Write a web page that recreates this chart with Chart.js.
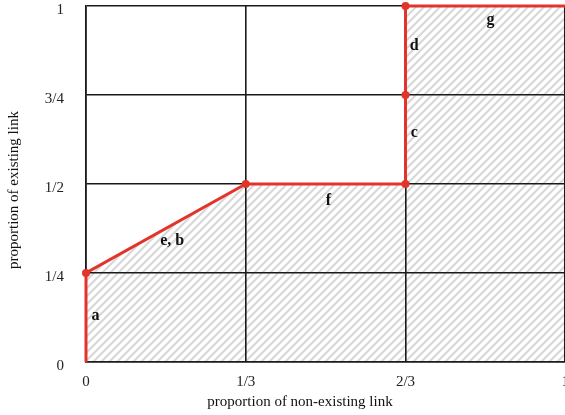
<!DOCTYPE html>
<html><head><meta charset="utf-8">
<script src="https://cdn.jsdelivr.net/npm/chart.js@4"></script>
<style>
html,body{margin:0;padding:0;background:#fff;overflow:hidden;height:415px}
#wrap{width:580px;height:440px;position:relative;top:-25px}
</style></head><body>
<div id="wrap"><canvas id="c"></canvas></div>
<script>
const xTicks=[0,1/3,2/3,1];
const xTickLabels=['0','1/3','2/3','1'];
const yTicks=[0,0.25,0.5,0.75,1];
const yTickLabels=['0','1/4','1/2','3/4','1'];

// boundary: proportion of non-existing link (x) vs existing link (y)
const boundaryX=[0,0,1/3,2/3,2/3,2/3,1];
const boundaryY=[0,0.25,0.5,0.5,0.75,1,1];
const markedPoint=[false,true,true,true,true,true,false];

// segment names, placed in data units
const segLabels=['a','e, b','f','c','d','g'];
const segX=[0.02,0.18,0.506,0.685,0.685,0.844];
const segY=[0.13,0.34,0.452,0.643,0.888,0.96];

const RED='#e3342b';
const SERIF='"Liberation Serif", "DejaVu Serif", serif';

function hatch(){
  const s=8, p=document.createElement('canvas'); p.width=s; p.height=s;
  const g=p.getContext('2d'); g.strokeStyle='#d8d8d8'; g.lineWidth=2.2;
  g.beginPath();
  g.moveTo(-1,s+1); g.lineTo(s+1,-1);
  g.moveTo(-1,1); g.lineTo(1,-1);
  g.moveTo(s-1,s+1); g.lineTo(s+1,s-1);
  g.stroke();
  return g.createPattern(p,'repeat');
}

const notes={
  id:'notes',
  afterDraw(chart){
    const {ctx,chartArea:a,scales:{x,y}}=chart;
    ctx.save();
    ctx.fillStyle='#111';
    ctx.textAlign='center'; ctx.textBaseline='middle';
    ctx.font='bold 16px '+SERIF;
    segLabels.forEach((t,i)=>ctx.fillText(t,x.getPixelForValue(segX[i]),y.getPixelForValue(segY[i])));
    ctx.font='15px '+SERIF;
    ctx.fillText('proportion of non-existing link',a.left+214,a.bottom+40);
    ctx.translate(14,(a.top+a.bottom)/2+6);
    ctx.rotate(-Math.PI/2);
    ctx.fillText('proportion of existing link',0,0);
    ctx.restore();
  }
};

const axisCommon={
  type:'linear',min:0,max:1,
  grid:{color:'#1a1a1a',lineWidth:1.6,drawTicks:false},
  border:{color:'#1a1a1a',width:1.6},
};

new Chart(document.getElementById('c'),{
  type:'scatter',
  data:{datasets:[{
    data:boundaryX.map((v,i)=>({x:v,y:boundaryY[i]})),
    showLine:true,
    tension:0,
    fill:'origin',
    backgroundColor:hatch(),
    borderColor:RED,
    borderWidth:3,
    pointRadius:c=>markedPoint[c.dataIndex]?4:0,
    pointHoverRadius:0,
    pointBackgroundColor:RED,
    pointBorderWidth:0,
    clip:false
  }]},
  options:{
    responsive:true,maintainAspectRatio:false,animation:false,
    layout:{padding:{top:6,right:14,left:0,bottom:0}},
    plugins:{legend:{display:false},tooltip:{enabled:false},filler:{drawTime:'beforeDraw'}},
    scales:{
      x:{...axisCommon,
        afterBuildTicks:s=>{s.ticks=xTicks.map(v=>({value:v}));},
        afterFit:s=>{s.height=53;},
        ticks:{callback:(v,i)=>xTickLabels[i],padding:11,color:'#222',font:{family:SERIF,size:15},maxRotation:0}
      },
      y:{...axisCommon,
        afterBuildTicks:s=>{s.ticks=yTicks.map(v=>({value:v}));},
        afterFit:s=>{s.width=86;},
        ticks:{callback:(v,i)=>yTickLabels[i],padding:22,labelOffset:4,color:'#222',font:{family:SERIF,size:15}}
      }
    }
  },
  plugins:[notes]
});
</script>
</body></html>
